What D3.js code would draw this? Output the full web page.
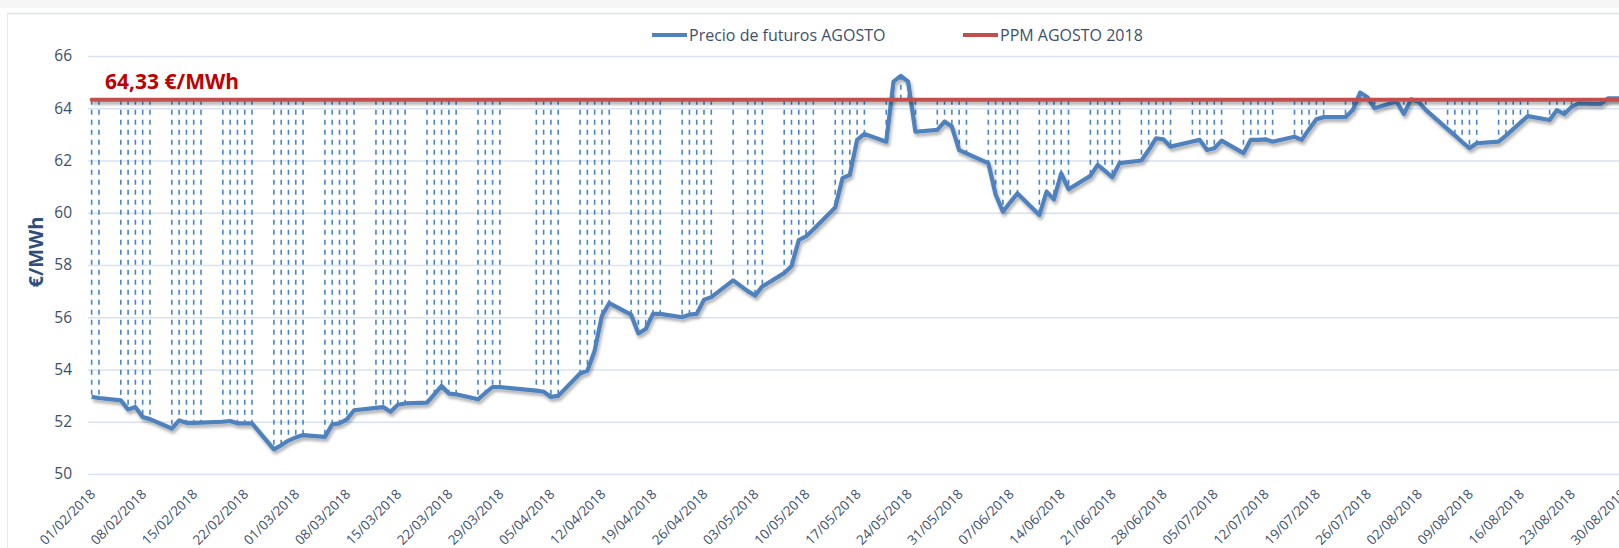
<!DOCTYPE html>
<html>
<head>
<meta charset="utf-8">
<script src="https://cdnjs.cloudflare.com/ajax/libs/d3/7.8.5/d3.min.js"></script>
<style>
  body { margin: 0; background: #fff; }
  text { font-family: "Open Sans", sans-serif; }
</style>
</head>
<body>
<div id="chart"></div>
<script>
  // Futures price for August delivery, one value per trading day
  var fechas = [
    "01/02/2018", "02/02/2018", "05/02/2018", "06/02/2018", "07/02/2018", "08/02/2018", "09/02/2018",
    "12/02/2018", "13/02/2018", "14/02/2018", "15/02/2018", "16/02/2018", "19/02/2018", "20/02/2018",
    "21/02/2018", "22/02/2018", "23/02/2018", "26/02/2018", "27/02/2018", "28/02/2018",
    "01/03/2018", "02/03/2018", "05/03/2018", "06/03/2018", "07/03/2018", "08/03/2018", "09/03/2018",
    "12/03/2018", "13/03/2018", "14/03/2018", "15/03/2018", "16/03/2018", "19/03/2018", "20/03/2018",
    "21/03/2018", "22/03/2018", "23/03/2018", "26/03/2018", "27/03/2018", "28/03/2018", "29/03/2018",
    "03/04/2018", "04/04/2018", "05/04/2018", "06/04/2018", "09/04/2018", "10/04/2018", "11/04/2018",
    "12/04/2018", "13/04/2018", "16/04/2018", "17/04/2018", "18/04/2018", "19/04/2018", "20/04/2018",
    "23/04/2018", "24/04/2018", "25/04/2018", "26/04/2018", "27/04/2018", "30/04/2018",
    "02/05/2018", "03/05/2018", "04/05/2018", "07/05/2018", "08/05/2018", "09/05/2018", "10/05/2018",
    "11/05/2018", "14/05/2018", "15/05/2018", "16/05/2018", "17/05/2018", "18/05/2018", "21/05/2018",
    "22/05/2018", "23/05/2018", "24/05/2018", "25/05/2018", "28/05/2018", "29/05/2018", "30/05/2018",
    "31/05/2018",
    "01/06/2018", "04/06/2018", "05/06/2018", "06/06/2018", "07/06/2018", "08/06/2018", "11/06/2018",
    "12/06/2018", "13/06/2018", "14/06/2018", "15/06/2018", "18/06/2018", "19/06/2018", "20/06/2018",
    "21/06/2018", "22/06/2018", "25/06/2018", "26/06/2018", "27/06/2018", "28/06/2018", "29/06/2018",
    "02/07/2018", "03/07/2018", "04/07/2018", "05/07/2018", "06/07/2018", "09/07/2018", "10/07/2018",
    "11/07/2018", "12/07/2018", "13/07/2018", "16/07/2018", "17/07/2018", "18/07/2018", "19/07/2018",
    "20/07/2018", "23/07/2018", "24/07/2018", "25/07/2018", "26/07/2018", "27/07/2018", "30/07/2018",
    "31/07/2018",
    "01/08/2018", "02/08/2018", "03/08/2018", "06/08/2018", "07/08/2018", "08/08/2018", "09/08/2018",
    "10/08/2018", "13/08/2018", "14/08/2018", "15/08/2018", "16/08/2018", "17/08/2018", "20/08/2018",
    "21/08/2018", "22/08/2018", "23/08/2018", "24/08/2018", "27/08/2018", "28/08/2018", "29/08/2018",
    "30/08/2018", "31/08/2018"
  ];

  var precio = [
    52.95, 52.91, 52.82, 52.47, 52.56, 52.18, 52.10,
    51.74, 52.05, 51.96, 51.96, 51.97, 52.00, 52.03,
    51.94, 51.94, 51.94, 50.94, 51.10, 51.28,
    51.40, 51.49, 51.42, 51.90, 51.94, 52.09, 52.44,
    52.53, 52.56, 52.38, 52.65, 52.70, 52.73, 53.05,
    53.37, 53.08, 53.05, 52.86, 53.10, 53.33, 53.33,
    53.19, 53.15, 52.95, 52.99, 53.85, 53.95, 54.72,
    56.06, 56.54, 56.10, 55.38, 55.55, 56.13, 56.13,
    56.00, 56.10, 56.13, 56.67, 56.77, 57.41,
    57.00, 56.83, 57.18, 57.69, 57.95, 58.95, 59.10,
    59.36, 60.20, 61.32, 61.45, 62.79, 63.02, 62.72,
    65.02, 65.24, 65.02, 63.10, 63.17, 63.49, 63.30,
    62.40,
    62.27, 61.90, 60.70, 60.04, 60.40, 60.74, 59.91,
    60.81, 60.51, 61.51, 60.90, 61.41, 61.83, 61.60,
    61.36, 61.90, 62.00, 62.40, 62.85, 62.81, 62.53,
    62.73, 62.79, 62.40, 62.47, 62.76, 62.28, 62.79,
    62.79, 62.81, 62.72, 62.91, 62.79, 63.20, 63.58,
    63.66, 63.66, 63.93, 64.60, 64.42, 64.00, 64.26,
    63.78,
    64.34, 64.25, 63.94, 63.20, 62.96, 62.71, 62.47,
    62.66, 62.72, 62.95, 63.20, 63.45, 63.70, 63.55,
    63.93, 63.78, 64.05, 64.19, 64.16, 64.38, 64.38,
    64.38, 64.38
  ];

  // PPM AGOSTO 2018 (€/MWh)
  var ppm = 64.33;

  var yTicks = [50, 52, 54, 56, 58, 60, 62, 64, 66];

  var xTickLabels = [
    "01/02/2018", "08/02/2018", "15/02/2018", "22/02/2018", "01/03/2018", "08/03/2018",
    "15/03/2018", "22/03/2018", "29/03/2018", "05/04/2018", "12/04/2018", "19/04/2018",
    "26/04/2018", "03/05/2018", "10/05/2018", "17/05/2018", "24/05/2018", "31/05/2018",
    "07/06/2018", "14/06/2018", "21/06/2018", "28/06/2018", "05/07/2018", "12/07/2018",
    "19/07/2018", "26/07/2018", "02/08/2018", "09/08/2018", "16/08/2018", "23/08/2018",
    "30/08/2018"
  ];

  var svgWidth = 1619;
  var svgHeight = 548;

  var margin = {
    top: 56,
    bottom: 74,
    left: 88
  };

  var height = svgHeight - margin.top - margin.bottom;
  // the plot runs past the right edge of the picture, like the original
  var width = 212 * 7.29;

  var textColor = "#3d4f6d";
  var blue = "#4f81bd";
  var red = "#c0504d";

  var svg = d3
    .select("#chart")
    .append("svg")
    .attr("width", svgWidth)
    .attr("height", svgHeight);

  // soft shadow under the two series (user space, so the flat PPM line keeps it)
  var filter = svg.append("defs").append("filter")
    .attr("id", "shadow")
    .attr("filterUnits", "userSpaceOnUse")
    .attr("x", -100).attr("y", -100)
    .attr("width", svgWidth + 200).attr("height", svgHeight + 200);
  filter.append("feDropShadow")
    .attr("dx", 1.5)
    .attr("dy", 3)
    .attr("stdDeviation", 1.6)
    .attr("flood-color", "#000")
    .attr("flood-opacity", 0.3);

  // chart frame
  svg.append("rect")
    .attr("x", 0).attr("y", 0)
    .attr("width", svgWidth).attr("height", 8)
    .attr("fill", "#f6f6f6");
  svg.append("line")
    .attr("x1", 7).attr("x2", svgWidth)
    .attr("y1", 13.5).attr("y2", 13.5)
    .attr("stroke", "#d9e2ee").attr("stroke-width", 1.5);
  svg.append("line")
    .attr("x1", 7.5).attr("x2", 7.5)
    .attr("y1", 13).attr("y2", svgHeight)
    .attr("stroke", "#e6ebf2").attr("stroke-width", 1);

  var chartGroup = svg.append("g")
    .attr("transform", `translate(${margin.left}, ${margin.top})`);

  var parseDate = d3.utcParse("%d/%m/%Y");
  var midDay = s => d3.utcHour.offset(parseDate(s), 12);

  var data = fechas.map(function(f, i) {
    return { date: midDay(f), value: precio[i] };
  });

  // scales
  var xScale = d3.scaleUtc()
    .domain([parseDate("01/02/2018"), parseDate("01/09/2018")])
    .range([0, width]);

  var yScale = d3.scaleLinear()
    .domain([50, 66])
    .range([height, 0]);

  // y axis with gridlines
  var yAxis = d3.axisLeft(yScale)
    .tickValues(yTicks)
    .tickSize(-width)
    .tickPadding(16)
    .tickFormat(d3.format("d"));

  var yAxisG = chartGroup.append("g").call(yAxis);
  yAxisG.select(".domain").remove();
  yAxisG.selectAll("line")
    .attr("stroke", "#d7e3f3")
    .attr("stroke-width", 1.5);
  yAxisG.selectAll("text")
    .attr("fill", textColor)
    .attr("font-size", "15.5px")
    .attr("font-family", "Open Sans");

  // x axis, weekly labels
  var xAxis = d3.axisBottom(xScale)
    .tickValues(xTickLabels.map(midDay))
    .tickSize(0)
    .tickFormat(d3.utcFormat("%d/%m/%Y"));

  var xAxisG = chartGroup.append("g")
    .attr("transform", `translate(0, ${height})`)
    .call(xAxis);
  xAxisG.select(".domain").remove();
  xAxisG.selectAll("text")
    .attr("x", 0)
    .attr("y", 0)
    .attr("dy", 0)
    .attr("text-anchor", "end")
    .attr("transform", "translate(4, 21) rotate(-45)")
    .attr("fill", textColor)
    .attr("font-size", "13.5px")
    .attr("font-family", "Open Sans");

  // dashed drops from each price up to the PPM level
  chartGroup.append("g")
    .selectAll("line")
    .data(data)
    .enter()
    .append("line")
    .attr("x1", d => xScale(d.date))
    .attr("x2", d => xScale(d.date))
    .attr("y1", yScale(ppm))
    .attr("y2", d => yScale(d.value))
    .attr("stroke", "#4a85cc")
    .attr("stroke-width", 1.6)
    .attr("stroke-dasharray", "5,5");

  var priceLine = d3.line()
    .x(d => xScale(d.date))
    .y(d => yScale(d.value));

  chartGroup.append("path")
    .datum(data)
    .attr("d", priceLine)
    .attr("fill", "none")
    .attr("stroke", blue)
    .attr("stroke-width", 4.2)
    .attr("stroke-linejoin", "round")
    .attr("filter", "url(#shadow)");

  var ppmLine = d3.line()
    .x(d => xScale(d.date))
    .y(() => yScale(ppm));

  chartGroup.append("path")
    .datum(data)
    .attr("d", ppmLine)
    .attr("fill", "none")
    .attr("stroke", red)
    .attr("stroke-width", 4)
    .attr("stroke-linecap", "round")
    .attr("filter", "url(#shadow)");

  // value label for the PPM
  svg.append("text")
    .attr("x", 105)
    .attr("y", 89)
    .attr("fill", "#c00000")
    .attr("font-size", "21px")
    .attr("font-weight", "bold")
    .text("64,33 €/MWh");

  // axis title
  svg.append("text")
    .attr("transform", "translate(43, 252) rotate(-90)")
    .attr("text-anchor", "middle")
    .attr("fill", "#2f4e7e")
    .attr("font-size", "20px")
    .attr("font-weight", "bold")
    .text("€/MWh");

  // legend
  var legend = [
    { label: "Precio de futuros AGOSTO", color: blue, x: 652 },
    { label: "PPM AGOSTO 2018", color: red, x: 963 }
  ];

  var legendG = svg.append("g").attr("transform", "translate(0, 35)");
  legend.forEach(function(item) {
    legendG.append("line")
      .attr("x1", item.x).attr("x2", item.x + 35)
      .attr("y1", 0).attr("y2", 0)
      .attr("stroke", item.color)
      .attr("stroke-width", 4);
    legendG.append("text")
      .attr("x", item.x + 37)
      .attr("y", 0)
      .attr("dy", "0.35em")
      .attr("fill", textColor)
      .attr("font-size", "16px")
      .text(item.label);
  });
</script>
</body>
</html>
